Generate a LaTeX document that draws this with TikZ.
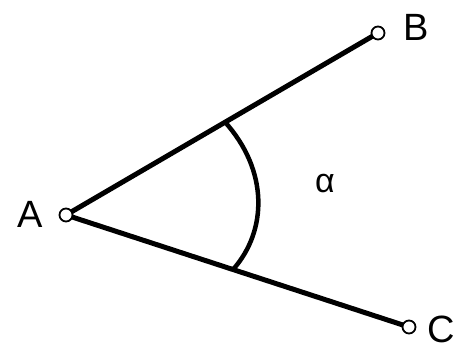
\documentclass[tikz,border=0pt]{standalone}
\usepackage{fontspec}
\setmainfont{Liberation Sans}
\usetikzlibrary{calc}

\begin{document}
\begin{tikzpicture}[x=1pt,y=-1pt,
 dot/.style={circle,draw=black,fill=white,line width=1.8pt,inner sep=0pt,minimum size=13pt},
 leg/.style={line width=5pt,line cap=round},
 lbl/.style={font=\fontsize{38}{40}\selectfont,inner sep=0pt}]
\useasboundingbox (0,0) rectangle (463,352);
\coordinate (pA) at (66,215);
\coordinate (pB) at (378,33);
\coordinate (pC) at (409,327);
\draw[leg] (pA) -- (pB);
\draw[leg] (pA) -- (pC);
\coordinate (up) at ($(pA)!0.51!(pB)$);
\coordinate (lo) at ($(pA)!0.487!(pC)$);
\draw[line width=4.5pt] (up) .. controls (268,170) and (268,230) .. (lo);
\node[dot] (A) at (pA) {};
\node[dot] (B) at (pB) {};
\node[dot] (C) at (pC) {};
\node[lbl] (la) at (30,214) {A};
\node[lbl] (lb) at (416,27) {B};
\node[lbl] (lc) at (441,329) {C};
\node[lbl,font=\fontsize{34}{36}\selectfont] (alpha) at (325,184) {α};
\end{tikzpicture}
\end{document}
